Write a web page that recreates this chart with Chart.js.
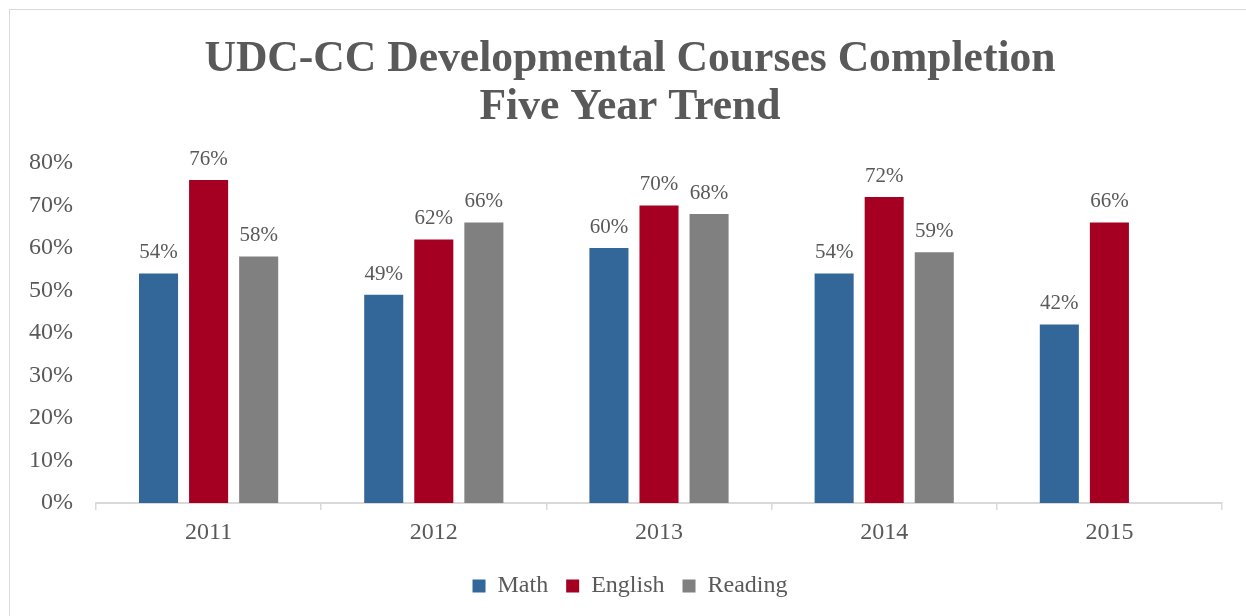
<!DOCTYPE html>
<html>
<head>
<title>UDC-CC Developmental Courses Completion</title>
<script src="https://cdn.jsdelivr.net/npm/chart.js"></script>
<style>
  body { margin: 0; background: #ffffff; overflow: hidden; }
  #frame {
    position: absolute; left: 9px; top: 9px; width: 1400px; height: 800px;
    border: 1px solid #d9d9d9;
  }
  #myChart { position: absolute; left: 0; top: 0; }
</style>
</head>
<body>
<div id="frame"></div>
<canvas id="myChart" width="1246" height="616"></canvas>
<script>
// dane wykresu
const years = ['2011', '2012', '2013', '2014', '2015'];
const math = [54, 49, 60, 54, 42];
const english = [76, 62, 70, 72, 66];
const reading = [58, 66, 68, 59, null];
const yTicks = [0, 10, 20, 30, 40, 50, 60, 70, 80];

const textColor = '#595959';
const serif = "'Liberation Serif', 'Times New Roman', serif";

// etykiety nad słupkami
const barLabels = {
  id: 'barLabels',
  afterLayout(chart) {
    // tytuł i legenda wyśrodkowane nad obszarem wykresu (jak w Excelu)
    chart.titleBlock.left += 24;
    chart.legend.left += 24;
  },
  afterDatasetsDraw(chart) {
    const ctx = chart.ctx;
    ctx.save();
    ctx.font = '21px ' + serif;
    ctx.fillStyle = textColor;
    ctx.textAlign = 'center';
    ctx.textBaseline = 'alphabetic';
    chart.data.datasets.forEach((ds, i) => {
      chart.getDatasetMeta(i).data.forEach((bar, j) => {
        if (ds.data[j] == null) return;
        ctx.fillText(ds.data[j] + '%', bar.x, bar.y - 15);
      });
    });
    ctx.restore();
  }
};

new Chart(document.getElementById('myChart'), {
  type: 'bar',
  data: {
    labels: years,
    datasets: [
      { label: 'Math', data: math, backgroundColor: '#336699' },
      { label: 'English', data: english, backgroundColor: '#a50021' },
      { label: 'Reading', data: reading, backgroundColor: '#808080' }
    ]
  },
  options: {
    responsive: false,
    animation: false,
    categoryPercentage: 0.667,
    barPercentage: 0.78,
    layout: { padding: { left: 14, right: 24, top: 0, bottom: 8 } },
    scales: {
      x: {
        grid: { drawOnChartArea: false, drawTicks: true, tickLength: 7, color: '#d9d9d9', lineWidth: 1.5, offset: true },
        border: { display: true, color: '#d9d9d9', width: 2 },
        ticks: { font: { family: serif, size: 24 }, color: textColor, padding: 8 },
        afterFit(scale) { scale.height = 53; }
      },
      y: {
        min: 0,
        max: 80,
        afterBuildTicks(scale) { scale.ticks = yTicks.map(v => ({ value: v })); },
        grid: { display: false, drawTicks: false },
        border: { display: false },
        ticks: {
          font: { family: serif, size: 24 },
          color: textColor,
          padding: 23,
          callback: v => v + '%'
        },
        afterFit(scale) { scale.width = 82; }
      }
    },
    plugins: {
      title: {
        display: true,
        text: ['UDC-CC Developmental Courses Completion', 'Five Year Trend'],
        color: textColor,
        font: { family: serif, size: 43.6, weight: 'bold', lineHeight: 1.1 },
        padding: { top: 36, bottom: 31 }
      },
      legend: {
        position: 'bottom',
        labels: {
          boxWidth: 13,
          boxHeight: 13,
          padding: 18,
          color: textColor,
          font: { family: serif, size: 24 }
        }
      },
      tooltip: { enabled: false }
    }
  },
  plugins: [barLabels]
});
</script>
</body>
</html>
